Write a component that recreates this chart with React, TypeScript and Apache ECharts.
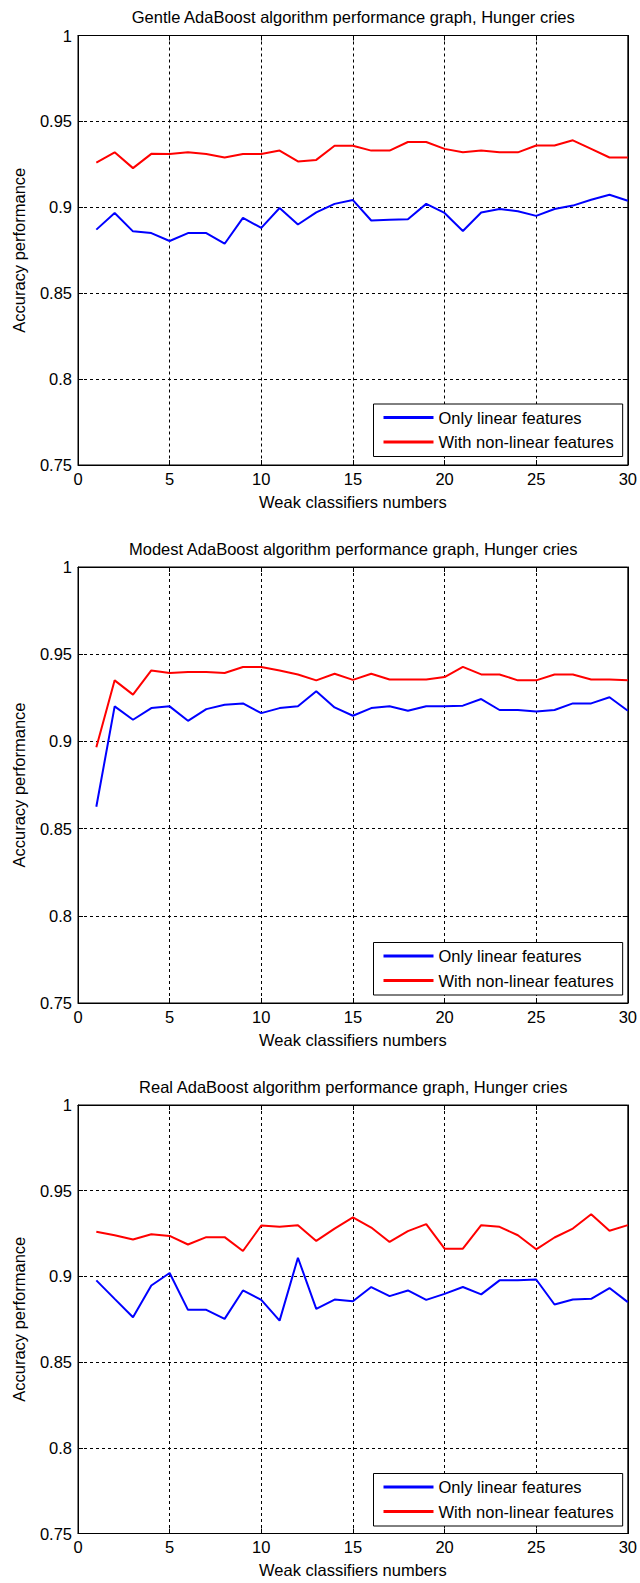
import React, { useEffect, useRef } from "react";
import * as echarts from "echarts";

// ---------- data ----------
const classifiers = [1,2,3,4,5,6,7,8,9,10,11,12,13,14,15,16,17,18,19,20,21,22,23,24,25,26,27,28,29,30];

const titles = [
  "Gentle AdaBoost algorithm performance graph, Hunger cries",
  "Modest AdaBoost algorithm performance graph, Hunger cries",
  "Real AdaBoost algorithm performance graph, Hunger cries",
];

const seriesNames = ["Only linear features", "With non-linear features"];

const gentleLinear = [0.887,0.8967,0.886,0.885,0.8804,0.885,0.885,0.8788,0.8938,0.888,0.8996,0.89,0.897,0.902,0.9042,0.8923,0.8927,0.893,0.902,0.8967,0.8862,0.897,0.899,0.8977,0.895,0.899,0.901,0.9044,0.9073,0.9038];
const gentleNonLinear = [0.926,0.932,0.9228,0.9311,0.931,0.932,0.931,0.929,0.931,0.931,0.933,0.9267,0.9276,0.9358,0.9358,0.933,0.933,0.938,0.938,0.934,0.932,0.933,0.932,0.932,0.936,0.936,0.939,0.934,0.929,0.929];

const modestLinear = [0.8625,0.9201,0.9124,0.9191,0.9201,0.9118,0.9185,0.921,0.9218,0.9162,0.9191,0.9201,0.9288,0.9195,0.9147,0.9191,0.9201,0.9176,0.9201,0.9201,0.9205,0.9243,0.918,0.918,0.9172,0.918,0.9218,0.9218,0.9253,0.9176];
const modestNonLinear = [0.8966,0.935,0.9268,0.9407,0.9392,0.9398,0.9398,0.9392,0.9427,0.9427,0.9407,0.9384,0.935,0.9388,0.9353,0.9388,0.9355,0.9355,0.9355,0.9369,0.9427,0.9384,0.9384,0.935,0.935,0.9384,0.9384,0.9355,0.9355,0.935];

const realLinear = [0.8977,0.8869,0.8762,0.8947,0.902,0.8805,0.8805,0.8752,0.8918,0.8863,0.8742,0.9109,0.8811,0.8865,0.8855,0.8938,0.8885,0.8918,0.8863,0.8898,0.8938,0.8895,0.8977,0.8977,0.8982,0.8836,0.8865,0.8869,0.8932,0.885];
const realNonLinear = [0.926,0.924,0.9215,0.9246,0.9236,0.9186,0.9229,0.9229,0.9148,0.9297,0.9289,0.9299,0.9207,0.9279,0.9344,0.9285,0.9201,0.9264,0.9305,0.9162,0.9162,0.9299,0.9289,0.924,0.9158,0.9227,0.9279,0.9363,0.9266,0.9299];

const xTicks = { min: 0, max: 30, interval: 5 };
const yTicks = { min: 0.75, max: 1, interval: 0.05 };

const xAxisTitle = "Weak classifiers numbers";
const yAxisTitle = "Accuracy performance";

// ---------- layout ----------
const FONT = "Liberation Sans, Arial, Helvetica, sans-serif";
const FS = 16.5;
const PLOT_LEFT = 78;
const PLOT_RIGHT = 628.5;
const panels = [
  { top: 35.5, bottom: 465, legendTop: 404, lin: gentleLinear, non: gentleNonLinear },
  { top: 567, bottom: 1003, legendTop: 942.5, lin: modestLinear, non: modestNonLinear },
  { top: 1105, bottom: 1533.5, legendTop: 1473.5, lin: realLinear, non: realNonLinear },
];

export default function App() {
  const ref = useRef<HTMLDivElement>(null);

  useEffect(() => {
    if (!ref.current) return;
    const chart = echarts.init(ref.current, undefined, { renderer: "svg" });

    const grids: any[] = [];
    const xAxes: any[] = [];
    const yAxes: any[] = [];
    const series: any[] = [];
    const legends: any[] = [];
    const graphics: any[] = [];

    const dashed = { show: true, lineStyle: { color: "#000", type: [3, 3], width: 1 } };

    panels.forEach((p, i) => {
      grids.push({
        left: PLOT_LEFT,
        right: 640 - PLOT_RIGHT,
        top: p.top,
        height: p.bottom - p.top,
        show: true,
        borderColor: "#000",
        borderWidth: 1,
        backgroundColor: "#fff",
      });
    });

    // bottom x axes
    panels.forEach((p, i) => {
      xAxes.push({
        type: "value",
        gridIndex: i,
        position: "bottom",
        ...xTicks,
        name: xAxisTitle,
        nameLocation: "middle",
        nameGap: 28,
        nameTextStyle: { fontFamily: FONT, fontSize: FS, color: "#000" },
        axisLine: { show: true, onZero: false, lineStyle: { color: "#000", width: 1 } },
        axisTick: { show: true, inside: true, length: 5, lineStyle: { color: "#000" } },
        axisLabel: { show: true, margin: 5, fontFamily: FONT, fontSize: FS, color: "#000", showMaxLabel: true, showMinLabel: true },
        splitLine: dashed,
      });
    });
    // top x axes (ticks only)
    panels.forEach((p, i) => {
      xAxes.push({
        type: "value",
        gridIndex: i,
        position: "top",
        ...xTicks,
        axisLine: { show: true, onZero: false, lineStyle: { color: "#000", width: 1 } },
        axisTick: { show: true, inside: true, length: 5, lineStyle: { color: "#000" } },
        axisLabel: { show: false },
        splitLine: { show: false },
      });
    });
    // left y axes
    panels.forEach((p, i) => {
      yAxes.push({
        type: "value",
        gridIndex: i,
        position: "left",
        ...yTicks,
        name: yAxisTitle,
        nameLocation: "middle",
        nameGap: 51,
        nameRotate: 90,
        nameTextStyle: { fontFamily: FONT, fontSize: FS, color: "#000" },
        axisLine: { show: true, onZero: false, lineStyle: { color: "#000", width: 1 } },
        axisTick: { show: true, inside: true, length: 5, lineStyle: { color: "#000" } },
        axisLabel: { show: true, margin: 6, fontFamily: FONT, fontSize: FS, color: "#000", showMaxLabel: true, showMinLabel: true },
        splitLine: dashed,
      });
    });
    // right y axes (ticks only)
    panels.forEach((p, i) => {
      yAxes.push({
        type: "value",
        gridIndex: i,
        position: "right",
        ...yTicks,
        axisLine: { show: true, onZero: false, lineStyle: { color: "#000", width: 1 } },
        axisTick: { show: true, inside: true, length: 5, lineStyle: { color: "#000" } },
        axisLabel: { show: false },
        splitLine: { show: false },
      });
    });

    panels.forEach((p, i) => {
      series.push({
        name: seriesNames[0],
        type: "line",
        xAxisIndex: i,
        yAxisIndex: i,
        data: classifiers.map((c, k) => [c, p.lin[k]]),
        showSymbol: false,
        symbol: "none",
        lineStyle: { color: "#0000ff", width: 2 },
        itemStyle: { color: "#0000ff" },
        z: 3,
      });
      series.push({
        name: seriesNames[1],
        type: "line",
        xAxisIndex: i,
        yAxisIndex: i,
        data: classifiers.map((c, k) => [c, p.non[k]]),
        showSymbol: false,
        symbol: "none",
        lineStyle: { color: "#ff0000", width: 2 },
        itemStyle: { color: "#ff0000" },
        z: 3,
      });

      legends.push({
        data: seriesNames,
        orient: "vertical",
        left: 373.5,
        top: p.legendTop,
        padding: [5, 9, 6, 10],
        itemGap: 7.5,
        itemWidth: 50,
        itemHeight: 3,
        icon: "rect",
        selectedMode: false,
        borderColor: "#000",
        borderWidth: 1,
        backgroundColor: "#fff",
        textStyle: { fontFamily: FONT, fontSize: FS, color: "#000", padding: [0, 0, 0, 0] },
      });

      graphics.push({
        type: "text",
        x: (PLOT_LEFT + PLOT_RIGHT) / 2,
        y: p.top - 18.5,
        style: {
          text: titles[i],
          font: `${FS}px ${FONT}`,
          fill: "#000",
          align: "center",
          verticalAlign: "middle",
        },
      });
    });

    chart.setOption({
      animation: false,
      backgroundColor: "#fff",
      grid: grids,
      xAxis: xAxes,
      yAxis: yAxes,
      series,
      legend: legends,
      graphic: graphics,
    });

    return () => chart.dispose();
  }, []);

  return (
    <div
      ref={ref}
      style={{ position: "absolute", left: 0, top: 0, width: 640, height: 1583, background: "#fff" }}
    />
  );
}
